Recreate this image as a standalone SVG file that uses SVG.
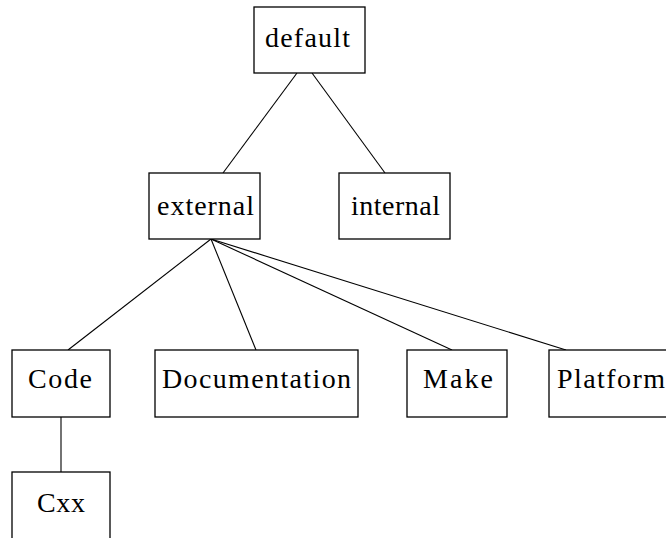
<svg xmlns="http://www.w3.org/2000/svg" width="666" height="538" viewBox="0 0 666 538">
<style>
rect{fill:#fff;stroke:#000;stroke-width:1.3}
text{font-family:"Liberation Serif","Times New Roman",serif;font-size:28px;fill:#000}
.c line{stroke:#000;stroke-width:1.1}
</style>
<rect x="0" y="0" width="666" height="538" style="stroke:none"/>
<g class="c" id="connectors">
<line x1="297" y1="73" x2="223" y2="173"/>
<line x1="312" y1="73" x2="385" y2="173"/>
<line x1="211" y1="239" x2="68" y2="350"/>
<line x1="211" y1="239" x2="256" y2="350"/>
<line x1="211" y1="239" x2="452" y2="350"/>
<line x1="211" y1="239" x2="566" y2="350"/>
<line x1="61" y1="417" x2="61" y2="472"/>
</g>
<g id="default"><rect x="254" y="7" width="111" height="66"/><text x="265" y="47" textLength="85">default</text></g>
<g id="external"><rect x="149" y="173" width="111" height="66"/><text x="157" y="215" textLength="97">external</text></g>
<g id="internal"><rect x="339" y="173" width="111" height="66"/><text x="351" y="215" textLength="89">internal</text></g>
<g id="code"><rect x="12" y="350" width="98" height="67"/><text x="28" y="388" textLength="64">Code</text></g>
<g id="documentation"><rect x="155" y="350" width="203" height="67"/><text x="162" y="388" textLength="189">Documentation</text></g>
<g id="make"><rect x="407" y="350" width="100" height="67"/><text x="423" y="388" textLength="70">Make</text></g>
<g id="platform"><rect x="549" y="350" width="125" height="67"/><text x="557" y="388" textLength="108">Platform</text></g>
<g id="cxx"><rect x="12" y="472" width="98" height="70"/><text x="37" y="512" textLength="48">Cxx</text></g>
</svg>
